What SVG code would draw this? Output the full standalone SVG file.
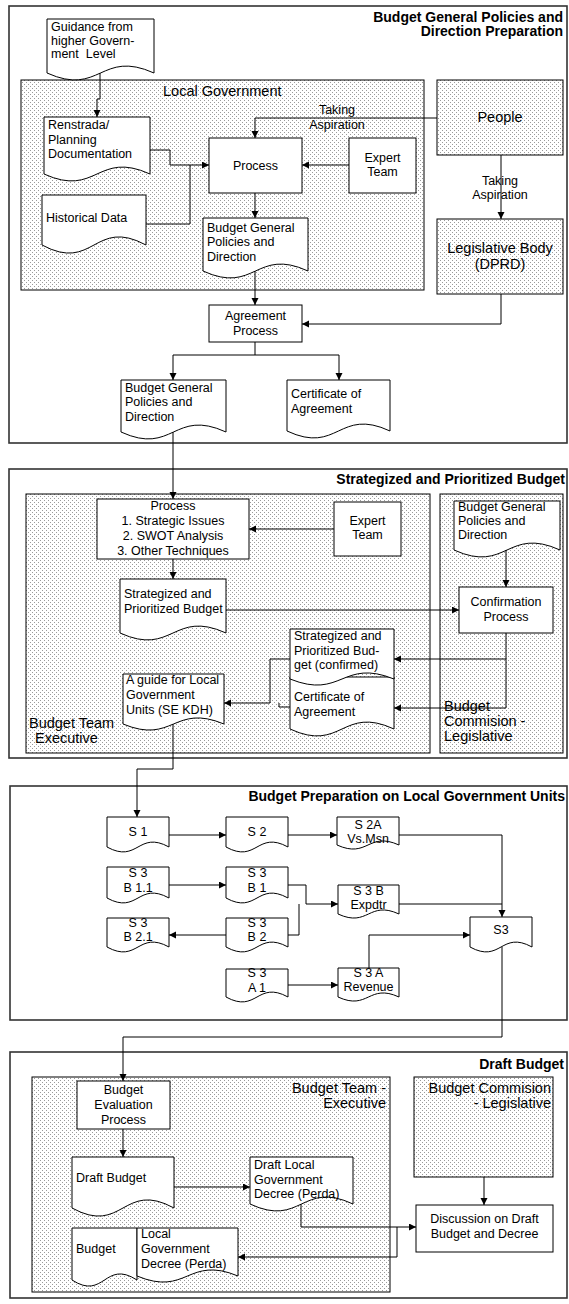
<svg xmlns="http://www.w3.org/2000/svg" width="569" height="1304" viewBox="0 0 569 1304">
<style>
text{font-family:"Liberation Sans",Arial,sans-serif;font-size:12.5px;fill:#000}
.c{text-anchor:middle}
.e{text-anchor:end}
.g{font-size:14.5px}
.h{font-size:14px;font-weight:bold;text-anchor:end}
.sec{fill:#fff;stroke:#333;stroke-width:1.6}
.box{fill:#fff;stroke:#000;stroke-width:1}
.dot{fill:url(#dots);stroke:#000;stroke-width:1}
.doc{fill:#fff;stroke:#000;stroke-width:1}
.ln{fill:none;stroke:#000;stroke-width:1}
.ar{fill:none;stroke:#000;stroke-width:1;marker-end:url(#ah)}
</style>
<defs>
<pattern id="dots" width="4" height="4" patternUnits="userSpaceOnUse">
<rect width="4" height="4" fill="#fff"/>
<rect x="0" y="0" width="1" height="1" fill="#9a9a9a"/>
<rect x="2" y="2" width="1" height="1" fill="#9a9a9a"/>
</pattern>
<marker id="ah" markerUnits="userSpaceOnUse" markerWidth="8" markerHeight="8" refX="7" refY="3.5" orient="auto">
<path d="M0,0L7,3.5L0,7Z" fill="#000"/>
</marker>
</defs>
<rect width="569" height="1304" fill="#fff"/>

<!-- Section 1 -->
<g id="sec1">
<rect class="sec" x="9" y="6" width="558" height="437"/>
<text class="h" x="563" y="22">Budget General Policies and</text>
<text class="h" x="563" y="36">Direction Preparation</text>
</g>
<g id="localgov">
<rect class="dot" x="21" y="80" width="403" height="210"/>
<text class="g" x="163" y="96">Local Government</text>
</g>
<g id="guidance">
<path class="doc" d="M47,19H154V73C100.5,49 100.5,97 47,73Z"/>
<text x="51" y="31">Guidance from</text>
<text x="51" y="45">higher Govern-</text>
<text x="51" y="58" xml:space="preserve">ment  Level</text>
</g>
<g id="renstrada">
<path class="doc" d="M44,117H150V174C97,150 97,198 44,174Z"/>
<text x="48" y="129">Renstrada/</text>
<text x="48" y="144">Planning</text>
<text x="48" y="158">Documentation</text>
</g>
<g id="historical">
<path class="doc" d="M42,195H146V245C94,217 94,273 42,245Z"/>
<text x="46" y="222">Historical Data</text>
</g>
<g id="process1">
<rect class="box" x="209" y="138" width="93" height="55"/>
<text class="c" x="255.5" y="170">Process</text>
</g>
<g id="expert1">
<rect class="box" x="349" y="138" width="67" height="55"/>
<text class="c" x="382.5" y="162">Expert</text>
<text class="c" x="382.5" y="176">Team</text>
</g>
<g id="bgp1">
<path class="doc" d="M203,218H308V271C255.5,247 255.5,295 203,271Z"/>
<text x="207" y="232">Budget General</text>
<text x="207" y="246">Policies and</text>
<text x="207" y="261">Direction</text>
</g>
<g id="people">
<rect class="dot" x="437" y="80" width="126" height="75"/>
<text class="c g" x="500" y="122">People</text>
</g>
<g id="legislative">
<rect class="dot" x="437" y="219" width="126" height="75"/>
<text class="c g" x="500" y="253">Legislative Body</text>
<text class="c g" x="500" y="269">(DPRD)</text>
</g>
<g id="agreement">
<rect class="box" x="209" y="305" width="93" height="37"/>
<text class="c" x="255.5" y="320">Agreement</text>
<text class="c" x="255.5" y="335">Process</text>
</g>
<g id="bgp2">
<path class="doc" d="M121,380H226V432C173.5,408 173.5,456 121,432Z"/>
<text x="125" y="392">Budget General</text>
<text x="125" y="406">Policies and</text>
<text x="125" y="421">Direction</text>
</g>
<g id="cert1">
<path class="doc" d="M287,380H390V431C338.5,407 338.5,455 287,431Z"/>
<text x="291" y="398">Certificate of</text>
<text x="291" y="413">Agreement</text>
</g>

<!-- Section 2 -->
<g id="sec2">
<rect class="sec" x="9" y="469" width="558" height="289"/>
<text class="h" x="565" y="484">Strategized and Prioritized Budget</text>
</g>
<g id="team2">
<rect class="dot" x="26" y="494" width="404" height="259"/>
<text class="g" x="29" y="728">Budget Team</text>
<text class="g" x="35" y="743">Executive</text>
</g>
<g id="commission2">
<rect class="dot" x="440" y="494" width="123" height="259"/>
<text class="g" x="444" y="711">Budget</text>
<text class="g" x="444" y="726">Commision -</text>
<text class="g" x="444" y="741">Legislative</text>
</g>
<g id="process2">
<rect class="box" x="97" y="499" width="152" height="60"/>
<text class="c" x="173" y="510">Process</text>
<text class="c" x="173" y="525">1. Strategic Issues</text>
<text class="c" x="173" y="540">2. SWOT Analysis</text>
<text class="c" x="173" y="555">3. Other Techniques</text>
</g>
<g id="expert2">
<rect class="box" x="334" y="502" width="67" height="54"/>
<text class="c" x="367.5" y="525">Expert</text>
<text class="c" x="367.5" y="539">Team</text>
</g>
<g id="strat1">
<path class="doc" d="M120,579H226V633C173,609 173,657 120,633Z"/>
<text x="124" y="598">Strategized and</text>
<text x="124" y="613">Prioritized Budget</text>
</g>
<g id="bgp3">
<path class="doc" d="M454,501H560V550C507,526 507,574 454,550Z"/>
<text x="458" y="511">Budget General</text>
<text x="458" y="525">Policies and</text>
<text x="458" y="539">Direction</text>
</g>
<g id="confirmation">
<rect class="box" x="459" y="587" width="94" height="46"/>
<text class="c" x="506" y="606">Confirmation</text>
<text class="c" x="506" y="621">Process</text>
</g>
<g id="cert2">
<path class="doc" d="M290,677H394V729C342,705 342,753 290,729Z"/>
<text x="294" y="701">Certificate of</text>
<text x="294" y="716">Agreement</text>
</g>
<g id="strat2">
<path class="doc" d="M290,629H394V679C342,658 342,700 290,679Z"/>
<text x="294" y="640">Strategized and</text>
<text x="294" y="655">Prioritized Bud-</text>
<text x="294" y="669">get (confirmed)</text>
</g>
<g id="guide">
<path class="doc" d="M123,674H224V724C173.5,703 173.5,745 123,724Z"/>
<text x="126" y="684">A guide for Local</text>
<text x="126" y="699">Government</text>
<text x="126" y="714">Units (SE KDH)</text>
</g>

<!-- Section 3 -->
<g id="sec3">
<rect class="sec" x="10" y="786" width="557" height="234"/>
<text class="h" x="565" y="801">Budget Preparation on Local Government Units</text>
</g>
<g id="s1"><path class="doc" d="M107,817H169V847C138,830 138,864 107,847Z"/><text class="c" x="138" y="836">S 1</text></g>
<g id="s2"><path class="doc" d="M226,817H288V847C257,830 257,864 226,847Z"/><text class="c" x="257" y="836">S 2</text></g>
<g id="s2a"><path class="doc" d="M337,817H399V845C368,831 368,859 337,845Z"/><text class="c" x="368" y="829">S 2A</text><text class="c" x="368" y="843">Vs.Msn</text></g>
<g id="s3b11"><path class="doc" d="M107,867H169V898C138,881 138,915 107,898Z"/><text class="c" x="138" y="877">S 3</text><text class="c" x="138" y="892">B 1.1</text></g>
<g id="s3b1"><path class="doc" d="M226,867H288V898C257,881 257,915 226,898Z"/><text class="c" x="257" y="877">S 3</text><text class="c" x="257" y="892">B 1</text></g>
<g id="s3b"><path class="doc" d="M338,885H399V914C368.5,900 368.5,928 338,914Z"/><text class="c" x="368.5" y="895">S 3 B</text><text class="c" x="368.5" y="909">Expdtr</text></g>
<g id="s3b21"><path class="doc" d="M107,918H169V947C138,930 138,964 107,947Z"/><text class="c" x="138" y="927">S 3</text><text class="c" x="138" y="941">B 2.1</text></g>
<g id="s3b2"><path class="doc" d="M226,918H288V947C257,930 257,964 226,947Z"/><text class="c" x="257" y="927">S 3</text><text class="c" x="257" y="941">B 2</text></g>
<g id="s3"><path class="doc" d="M470,917H532V947C501,930 501,964 470,947Z"/><text class="c" x="501" y="934">S3</text></g>
<g id="s3a1"><path class="doc" d="M226,969H288V997C257,980 257,1014 226,997Z"/><text class="c" x="257" y="977">S 3</text><text class="c" x="257" y="992">A 1</text></g>
<g id="s3a"><path class="doc" d="M338,968H399V997C368.5,983 368.5,1011 338,997Z"/><text class="c" x="368.5" y="977">S 3 A</text><text class="c" x="368.5" y="991">Revenue</text></g>

<!-- Section 4 -->
<g id="sec4">
<rect class="sec" x="10" y="1052" width="557" height="246"/>
<text class="h" x="564" y="1069">Draft Budget</text>
</g>
<g id="team4">
<rect class="dot" x="32" y="1077" width="358" height="215"/>
<text class="g e" x="386" y="1093">Budget Team -</text>
<text class="g e" x="386" y="1108">Executive</text>
</g>
<g id="commission4">
<rect class="dot" x="414" y="1077" width="139" height="100"/>
<text class="g e" x="551" y="1093">Budget Commision</text>
<text class="g e" x="551" y="1108">- Legislative</text>
</g>
<g id="evaluation">
<rect class="box" x="77" y="1081" width="93" height="48"/>
<text class="c" x="123.5" y="1094">Budget</text>
<text class="c" x="123.5" y="1109">Evaluation</text>
<text class="c" x="123.5" y="1124">Process</text>
</g>
<g id="draftbudget">
<path class="doc" d="M72,1157H174V1208C123,1180 123,1236 72,1208Z"/>
<text x="76" y="1182">Draft Budget</text>
</g>
<g id="draftlocal">
<path class="doc" d="M250,1157H353V1204C301.5,1180 301.5,1228 250,1204Z"/>
<text x="254" y="1169">Draft Local</text>
<text x="254" y="1184">Government</text>
<text x="254" y="1198">Decree (Perda)</text>
</g>
<g id="budget">
<path class="doc" d="M72,1228H137V1280C104.5,1259 104.5,1301 72,1280Z"/>
<text x="76" y="1253">Budget</text>
</g>
<g id="decree">
<path class="doc" d="M137,1228H238V1276C187.5,1255 187.5,1297 137,1276Z"/>
<text x="141" y="1238">Local</text>
<text x="141" y="1253">Government</text>
<text x="141" y="1268">Decree (Perda)</text>
</g>
<g id="discussion">
<rect class="box" x="416" y="1205" width="137" height="47"/>
<text class="c" x="484.5" y="1223">Discussion on Draft</text>
<text class="c" x="484.5" y="1238">Budget and Decree</text>
</g>

<!-- Connectors -->
<g id="connectors">
<path class="ar" d="M100,73V99H97V117"/>
<path class="ar" d="M150,150H170V165H209"/>
<path class="ln" d="M146,224H190V165"/>
<path class="ar" d="M437,118H255V138"/>
<text class="c" x="337" y="114">Taking</text>
<text class="c" x="337" y="129">Aspiration</text>
<path class="ar" d="M349,165H302"/>
<path class="ar" d="M255,193V218"/>
<path class="ar" d="M255,271V305"/>
<path class="ar" d="M501,155V219"/>
<text class="c" x="500" y="185">Taking</text>
<text class="c" x="500" y="199">Aspiration</text>
<path class="ar" d="M501,294V324H302"/>
<path class="ar" d="M255,342V355H173V380"/>
<path class="ar" d="M255,355H339V380"/>
<path class="ar" d="M173,432V499"/>
<path class="ar" d="M334,529H249"/>
<path class="ar" d="M173,559V579"/>
<path class="ar" d="M226,610H459"/>
<path class="ar" d="M506,550V587"/>
<path class="ar" d="M506,633V708H394"/>
<path class="ar" d="M506,659H394"/>
<path class="ar" d="M290,659H270V703H224"/>
<path class="ln" d="M290,707H279V703"/>
<path class="ar" d="M173,724V769H137V817"/>
<path class="ar" d="M169,835H226"/>
<path class="ar" d="M288,835H337"/>
<path class="ar" d="M399,835H502V917"/>
<path class="ar" d="M169,885H226"/>
<path class="ar" d="M288,885H306V904H338"/>
<path class="ln" d="M288,935H299V904"/>
<path class="ar" d="M226,935H169"/>
<path class="ln" d="M399,904H502"/>
<path class="ar" d="M288,985H338"/>
<path class="ar" d="M369,968V935H470"/>
<path class="ar" d="M502,947V1037H123V1081"/>
<path class="ar" d="M123,1129V1157"/>
<path class="ar" d="M174,1187H250"/>
<path class="ar" d="M301,1204V1227H416"/>
<path class="ar" d="M397,1227V1257H238"/>
<path class="ar" d="M484,1177V1205"/>
</g>
</svg>
